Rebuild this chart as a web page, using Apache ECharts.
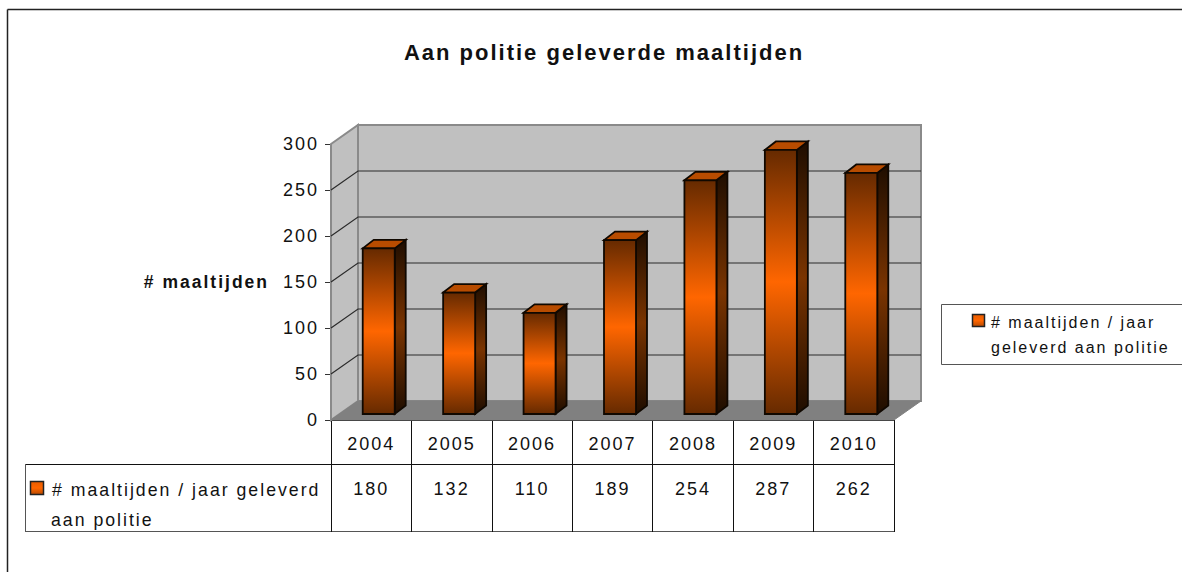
<!DOCTYPE html>
<html>
<head>
<meta charset="utf-8">
<style>
  html, body { margin: 0; padding: 0; background: #fff; overflow: hidden; }
  #chart { width: 1182px; height: 572px; }
  #chart text { letter-spacing: 2px; }
</style>
<script src="https://cdn.jsdelivr.net/npm/echarts@6/dist/echarts.min.js"></script>
</head>
<body>
<div id="chart"></div>
<script>
const years = ["2004", "2005", "2006", "2007", "2008", "2009", "2010"];
const values = [180, 132, 110, 189, 254, 287, 262];
const yTicks = [0, 50, 100, 150, 200, 250, 300];
const titleText = "Aan politie geleverde maaltijden";
const yName = "# maaltijden";
const legendLines = ["# maaltijden / jaar", "geleverd aan politie"];
const tableLines = ["# maaltijden / jaar geleverd", "aan politie"];

const FONT = '"Liberation Sans", sans-serif';
const WALL_DX = 27, WALL_DY = -19;
const BAR_SHIFT_X = 7.5, BAR_SHIFT_Y = -6, BAR_W = 32, BAR_DX = 11, BAR_DY = -8.5;

const grad = (a, b) => new echarts.graphic.LinearGradient(0, 0, 0, 1, [
  { offset: 0, color: a },
  { offset: 0.5, color: b },
  { offset: 1, color: a },
]);
const swatchFill = new echarts.graphic.LinearGradient(0, 0, 0, 1, [
  { offset: 0, color: "#e85c00" },
  { offset: 0.5, color: "#ff6600" },
  { offset: 1, color: "#b84a00" },
]);

function swatch(x, y, size) {
  return { type: "rect", shape: { x: x, y: y, width: size, height: size }, style: { fill: swatchFill, stroke: "#222", lineWidth: 1.5 } };
}
function label(text, x, y, size) {
  return { type: "text", style: { text: text, x: x, y: y, fill: "#111", font: size + "px " + FONT, textVerticalAlign: "middle" } };
}
function hline(x1, x2, y, color) {
  return { type: "line", shape: { x1: x1, y1: y, x2: x2, y2: y }, style: { stroke: color || "#111", lineWidth: 1 } };
}

// back wall, side wall and floor
function renderWalls(params) {
  const c = params.coordSys;
  const l = c.x, r = c.x + c.width, t = c.y, b = c.y + c.height;
  const edge = { stroke: "#8a8a8a", lineWidth: 2 };
  return {
    type: "group",
    children: [
      { type: "polygon", shape: { points: [[l + WALL_DX, t + WALL_DY], [r + WALL_DX, t + WALL_DY], [r + WALL_DX, b + WALL_DY], [l + WALL_DX, b + WALL_DY]] }, style: Object.assign({ fill: "#c0c0c0" }, edge) },
      { type: "polygon", shape: { points: [[l, t], [l + WALL_DX, t + WALL_DY], [l + WALL_DX, b + WALL_DY], [l, b]] }, style: Object.assign({ fill: "#c0c0c0" }, edge) },
      { type: "polygon", shape: { points: [[l, b], [l + WALL_DX, b + WALL_DY], [r + WALL_DX, b + WALL_DY], [r, b]] }, style: { fill: "#808080", stroke: "#808080", lineWidth: 1 } },
    ],
  };
}

// gridlines run across the side wall then along the back wall
function renderGridline(params, api) {
  const c = params.coordSys;
  const tick = api.value(1);
  if (tick === 0 || tick === 300) return { type: "group", children: [] };
  const y = api.coord([0, tick])[1];
  return {
    type: "polyline",
    shape: { points: [[c.x, y], [c.x + WALL_DX, y + WALL_DY], [c.x + c.width + WALL_DX, y + WALL_DY]] },
    style: { fill: null, stroke: "#2a2a2a", lineWidth: 1.2 },
  };
}

function renderBar(params, api) {
  const i = api.value(0);
  const top = api.coord([i, api.value(1)]);
  const base = api.coord([i, 0]);
  const x0 = top[0] + BAR_SHIFT_X - BAR_W / 2, x1 = x0 + BAR_W;
  const yt = top[1] + BAR_SHIFT_Y, yb = base[1] + BAR_SHIFT_Y;
  const line = { stroke: "#100800", lineWidth: 1.8 };
  return {
    type: "group",
    children: [
      { type: "polygon", shape: { points: [[x1, yt], [x1 + BAR_DX, yt + BAR_DY], [x1 + BAR_DX, yb + BAR_DY], [x1, yb]] }, style: Object.assign({ fill: grad("#1e0d00", "#7a3400") }, line) },
      { type: "polygon", shape: { points: [[x0, yt], [x0 + BAR_DX, yt + BAR_DY], [x1 + BAR_DX, yt + BAR_DY], [x1, yt]] }, style: Object.assign({ fill: "#b84c00" }, line) },
      { type: "rect", shape: { x: x0, y: yt, width: BAR_W, height: yb - yt }, style: Object.assign({ fill: grad("#662a00", "#ff6600") }, line) },
    ],
  };
}

function renderValueCell(params, api) {
  const p = api.coord([api.value(0), 0]);
  return {
    type: "text",
    style: { text: String(api.value(1)), x: p[0], y: p[1] + 69, fill: "#111", font: "18px " + FONT, textAlign: "center", textVerticalAlign: "middle" },
  };
}

const chart = echarts.init(document.getElementById("chart"), null, { renderer: "svg" });
chart.setOption({
  animation: false,
  backgroundColor: "#fff",
  title: {
    text: titleText,
    left: 599,
    top: 36,
    textAlign: "center",
    textStyle: { fontFamily: FONT, fontSize: 22, fontWeight: "bold", color: "#111" },
  },
  grid: { left: 331, top: 144, width: 563, height: 276 },
  xAxis: {
    type: "category",
    data: years,
    axisLine: { lineStyle: { color: "#111", width: 1 } },
    axisTick: { show: true, alignWithLabel: false, length: 112, lineStyle: { color: "#111", width: 1 } },
    axisLabel: { margin: 15, color: "#111", fontFamily: FONT, fontSize: 18 },
  },
  yAxis: {
    type: "value",
    min: 0,
    max: 300,
    interval: 50,
    name: yName,
    nameLocation: "middle",
    nameRotate: 0,
    nameGap: 62,
    nameTextStyle: { color: "#111", fontFamily: FONT, fontSize: 17.5, fontWeight: "bold" },
    splitLine: { show: false },
    axisLine: { show: true, lineStyle: { color: "#111", width: 1.2 } },
    axisTick: { show: true, length: 6, lineStyle: { color: "#333" } },
    axisLabel: { margin: 12, color: "#111", fontFamily: FONT, fontSize: 18 },
  },
  series: [
    { name: "walls", type: "custom", renderItem: renderWalls, data: [[0, 0]], silent: true, clip: false, z: 1 },
    { name: "grid", type: "custom", renderItem: renderGridline, data: yTicks.map((t) => [0, t]), silent: true, clip: false, z: 2 },
    { name: legendLines.join(" "), type: "custom", renderItem: renderBar, data: values.map((v, i) => [i, v]), clip: false, z: 3 },
    { name: "table", type: "custom", renderItem: renderValueCell, data: values.map((v, i) => [i, v]), silent: true, clip: false, z: 4 },
  ],
  graphic: [
    // outer chart frame, right and bottom run off the page
    { type: "line", shape: { x1: 7.5, y1: 9.5, x2: 1182, y2: 9.5 }, style: { stroke: "#222", lineWidth: 1.5 } },
    { type: "line", shape: { x1: 7.5, y1: 9.5, x2: 7.5, y2: 572 }, style: { stroke: "#222", lineWidth: 1.5 } },
    // data table frame
    hline(25, 894, 464.5),
    hline(25, 894, 531.5, "#555"),
    { type: "line", shape: { x1: 25.5, y1: 464, x2: 25.5, y2: 532 }, style: { stroke: "#555", lineWidth: 1 } },
    swatch(30.5, 481.5, 13),
    label(tableLines[0], 52, 490, 17.7),
    label(tableLines[1], 51, 520, 17.7),
    // legend box
    { type: "rect", shape: { x: 941.5, y: 304.5, width: 260, height: 60 }, style: { fill: "#fff", stroke: "#555", lineWidth: 1 } },
    swatch(972.5, 314.5, 12),
    label(legendLines[0], 991, 322, 16),
    label(legendLines[1], 991, 347, 16),
  ],
});
</script>
</body>
</html>
